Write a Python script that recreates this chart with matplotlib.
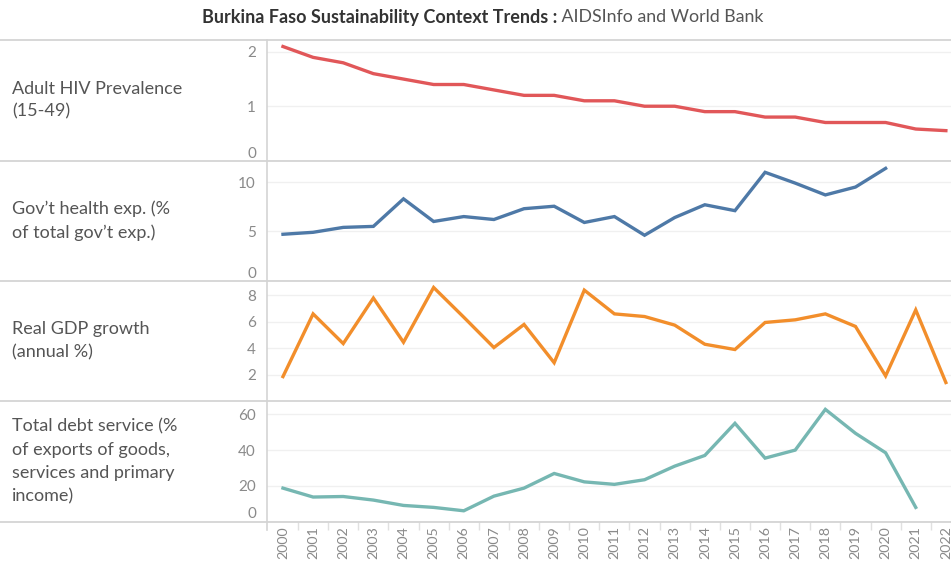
import matplotlib
matplotlib.use("Agg")
import matplotlib.pyplot as plt
from matplotlib.lines import Line2D
import numpy as np

plt.rcParams['font.family'] = ['Lato', 'DejaVu Sans']

years = list(range(2000, 2023))

hiv_prev = [2.1, 1.9, 1.8, 1.6, 1.5, 1.4, 1.4, 1.3, 1.2, 1.2, 1.1, 1.1,
            1.0, 1.0, 0.9, 0.9, 0.8, 0.8, 0.7, 0.7, 0.7, 0.58, 0.55]
gov_health = [4.7, 4.9, 5.4, 5.5, 8.3, 6.0, 6.5, 6.2, 7.3, 7.55, 5.9, 6.5,
              4.6, 6.4, 7.7, 7.1, 11.0, 9.9, 8.7, 9.5, 11.4, None, None]
gdp_growth = [1.85, 6.6, 4.35, 7.8, 4.45, 8.6, 6.35, 4.05, 5.8, 2.9, 8.4, 6.6,
              6.4, 5.75, 4.3, 3.9, 5.95, 6.15, 6.6, 5.65, 1.9, 6.9, 1.4]
debt_service = [18.7, 13.7, 14.0, 12.0, 9.0, 7.9, 6.0, 14.2, 18.7, 26.9, 22.2, 20.8,
                23.4, 31.0, 37.0, 55.0, 35.5, 40.0, 62.8, 49.4, 38.5, 7.9, None]

row_labels = ["Adult HIV Prevalence\n(15-49)",
              "Gov\u2019t health exp. (%\nof total gov\u2019t exp.)",
              "Real GDP growth\n(annual %)",
              "Total debt service (%\nof exports of goods,\nservices and primary\nincome)"]
series = [hiv_prev, gov_health, gdp_growth, debt_service]
colors = ["#e15759", "#4e79a7", "#f28e2b", "#76b7b2"]
yticks = [[0, 1, 2], [0, 5, 10], [2, 4, 6, 8], [0, 20, 40, 60]]
ylims = [(0, 2.22), (0, 12.2), (0, 9.13), (0, 67.5)]
title_bold = "Burkina Faso Sustainability Context Trends :"
title_rest = " AIDSInfo and World Bank"

W, H = 951, 561
fig = plt.figure(figsize=(W / 100, H / 100), dpi=100)

edges = [40, 160.5, 280.5, 401, 521.5]
x_left = 267
axes = []
for i in range(4):
    top, bot = edges[i], edges[i + 1]
    ax = fig.add_axes([x_left / W, 1 - bot / H, 1 - x_left / W, (bot - top) / H])
    axes.append(ax)
    y = np.array([np.nan if v is None else v for v in series[i]], dtype=float)
    ax.plot(years, y, color=colors[i], lw=2.4, solid_joinstyle='miter', clip_on=False)
    ax.set_xlim(1999.47, 2022.17)
    ax.set_ylim(*ylims[i])
    ax.set_yticks(yticks[i])
    ax.set_yticklabels([str(t) for t in yticks[i]])
    for t, lab in zip(yticks[i], ax.get_yticklabels()):
        if t == ylims[i][0]:
            lab.set_va('bottom')
    ax.tick_params(axis='y', length=0, pad=8, labelsize=11, labelcolor='#8a8a8a')
    ax.grid(axis='y', color='#f0f0f0', lw=1)
    ax.set_axisbelow(True)
    for s in ax.spines.values():
        s.set_visible(False)
    if i < 3:
        ax.tick_params(axis='x', length=0, labelbottom=False)
    else:
        ax.set_xticks(years)
        ax.set_xticklabels([str(yv) for yv in years], rotation=90, va='top')
        ax.set_xticks([yv + 0.5 for yv in years[:-1]], minor=True)
        ax.tick_params(axis='x', which='major', length=0, pad=3.5, labelsize=10.3,
                       labelcolor='#8a8a8a')
        ax.tick_params(axis='x', which='minor', length=6, width=1, color='#e0e0e0',
                       direction='out')
    fig.text(12 / W, 1 - (top + bot) / 2 / H, row_labels[i], ha='left', va='center',
             fontsize=13, color='#555555', linespacing=1.55)

# separators
for e in edges:
    fig.add_artist(Line2D([0, 1], [1 - e / H, 1 - e / H], color='#d4d4d4', lw=1.3,
                          transform=fig.transFigure))
fig.add_artist(Line2D([x_left / W, x_left / W], [1 - 40 / H, 1 - 530 / H],
                      color='#d4d4d4', lw=1.2, transform=fig.transFigure))

# title
split = 557
fig.text(split / W, 1 - 17 / H, title_bold, ha='right', va='center', fontsize=13,
         fontweight='bold', color='#333333')
fig.text(split / W, 1 - 17 / H, title_rest, ha='left', va='center', fontsize=12.8,
         color='#555555')

fig.savefig("out.png", dpi=100)
